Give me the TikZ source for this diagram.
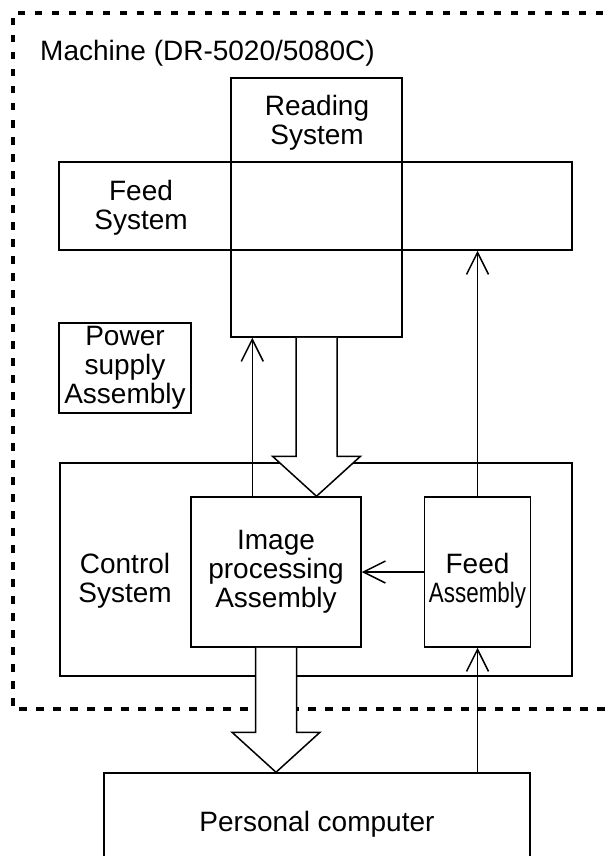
\documentclass[tikz,border=0pt]{standalone}
\usepackage{fontspec}
\setmainfont{Liberation Sans}
\usepackage{graphicx}
\usetikzlibrary{arrows.meta, positioning, calc}
\tikzstyle{block} = [rectangle, draw=black, line width=1.5pt, inner sep=0pt]
\tikzstyle{txt} = [align=center, font=\fontsize{28}{29}\selectfont, inner sep=0pt]
\tikzstyle{arrow} = [line width=1.5pt, -{Straight Barb[length=22pt, width=22pt, line width=1.5pt]}]
\tikzstyle{hollow} = [draw=black, line width=1.5pt, fill=white, line join=miter]
\tikzstyle{machine} = [line width=4.5pt, dash pattern=on 7.5pt off 9.5pt]

% wide white arrow from (#1) down to its tip at (#2)
\newcommand{\bigarrow}[2]{%
  \path[hollow] let \p1=(#1), \p2=(#2) in
    (\x1-20.5pt,\y1) -- (\x1-20.5pt,\y2+40pt) -- (\x1-44pt,\y2+40pt) -- (\x2,\y2)
    -- (\x1+44pt,\y2+40pt) -- (\x1+20.5pt,\y2+40pt) -- (\x1+20.5pt,\y1);}

\begin{document}
\begin{tikzpicture}[x=1pt, y=-1pt]
        \useasboundingbox (0,0) rectangle (609,856);

        % Machine boundary
        \draw[machine] (620,13) -- (13,13) -- (13,709) -- (620,709);
        \node[txt, anchor=west] (machine) at (40,53) {Machine (DR-5020/5080C)};

        % Reading and feed (top)
        \node[block, minimum width=171pt, minimum height=259pt] (reading) at (316.5,207.5) {};
        \node[block, minimum width=513pt, minimum height=88pt] (feedsys) at (315.5,206) {};
        \node[txt] (readingtxt) at (317,123) {Reading\\System};
        \node[txt] (feedsystxt) at (141,208) {Feed\\System};

        % Power supply
        \node[block, txt, minimum width=132pt, minimum height=90pt] (power) at (125,368) {Power\\supply\\Assembly};

        % Control system (middle)
        \node[block, minimum width=512pt, minimum height=213pt] (control) at (316,569.5) {};
        \node[txt] (controltxt) at (125,581) {Control\\System};
        \node[block, txt, minimum width=170pt, minimum height=150pt] (imgproc) at (276,572) {Image\\processing\\Assembly};
        \node[block, minimum width=106pt, minimum height=150pt, right=62pt of imgproc] (feedasm) {};
        \node[txt] (feedasmtxt) at ([yshift=-9pt]feedasm.center) {Feed\\\scalebox{0.8}[1]{Assembly}};

        % Personal computer (bottom)
        \node[block, txt, minimum width=426pt, minimum height=110pt, text depth=0pt] (pc) at (317,828) {\raisebox{13pt}{Personal computer}};

        % Arrows
        \draw[arrow] ([xshift=62pt]imgproc.north west) -- ([xshift=62pt]imgproc.north west |- reading.south);
        \draw[arrow] (feedasm.north) -- (feedasm.north |- feedsys.south);
        \draw[arrow] (feedasm.west) -- (imgproc.east);
        \draw[arrow] (feedasm.south |- pc.north) -- (feedasm.south);

        % Data paths
        \bigarrow{reading.south}{reading.south |- imgproc.north}
        \bigarrow{imgproc.south}{imgproc.south |- pc.north}

    \end{tikzpicture}
\end{document}
